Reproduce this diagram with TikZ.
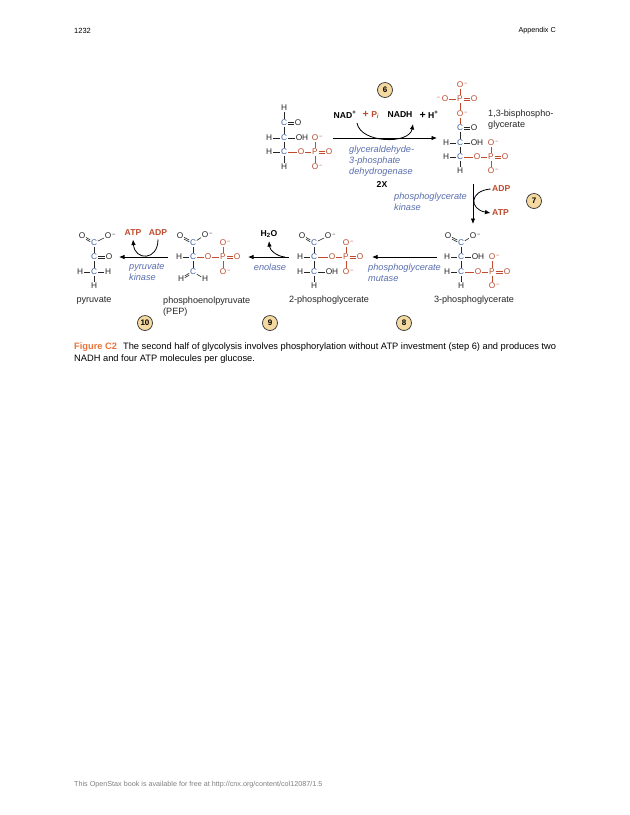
\documentclass[tikz,border=0pt]{standalone}
\usepackage{fontspec}
\setmainfont{Liberation Sans}
\usetikzlibrary{arrows.meta}
\definecolor{carbonblue}{HTML}{3F5FA8}
\definecolor{phosred}{HTML}{BE4B2E}
\definecolor{enzymeblue}{HTML}{5A6FB0}
\definecolor{stepfill}{HTML}{F4D9A0}
\definecolor{figorange}{HTML}{E8743B}
\newcommand{\Ominus}{O\rlap{\textsuperscript{\,−}}}
\newcommand{\bigplus}{{\fontsize{10.5}{10}\selectfont +}}
\newcommand{\dblbond}[3]{
	\draw[#1,transform canvas={yshift=0.9pt}] (#2) -- (#3);
	\draw[#1,transform canvas={yshift=-0.9pt}] (#2) -- (#3);
}
\tikzset{
	>={Latex[length=5.5pt,width=4.5pt]},
	atom/.style={font=\fontsize{8.3}{9}\selectfont,inner sep=0.6pt,text=black!85},
	atomC/.style={atom,text=carbonblue},
	atomP/.style={atom,text=phosred},
	bond/.style={line width=0.6pt,black!85},
	pbond/.style={line width=0.6pt,phosred},
	reaction/.style={->,line width=0.8pt,black},
	cofactor/.style={font=\bfseries\fontsize{8.6}{9}\selectfont,text=black},
	cofactorP/.style={cofactor,text=phosred},
	enzyme/.style={font=\itshape\fontsize{9.2}{11}\selectfont,text=enzymeblue,anchor=west,inner sep=0pt,align=left},
	molname/.style={font=\fontsize{9.1}{11.5}\selectfont,text=black!85,inner sep=0pt,align=left},
	stepnum/.style={circle,draw=black!80,fill=stepfill,line width=0.7pt,minimum size=15pt,inner sep=0pt,font=\bfseries\fontsize{8}{8}\selectfont},
}
\begin{document}
\begin{tikzpicture}[x=1pt,y=-1pt]
	\useasboundingbox[fill=white] (0,0) rectangle (630,815);

	\node[font=\fontsize{7.5}{8}\selectfont,anchor=west,inner sep=0pt] (page) at (74,30.5) {1232};
	\node[font=\fontsize{7.2}{8}\selectfont,anchor=east,inner sep=0pt] (chapter) at (556,30.5) {Appendix C};

	% glyceraldehyde-3-phosphate
	\node[atom] (gH1) at (284,108) {H};
	\node[atomC] (gC1) at (284,123) {C};
	\node[atom] (gO1) at (298,123) {O};
	\node[atomC] (gC2) at (284,138) {C};
	\node[atom] (gH2) at (269,138) {H};
	\node[atom] (gOH) at (302,138) {OH};
	\node[atomC] (gC3) at (284,152) {C};
	\node[atom] (gH3) at (269,152) {H};
	\node[atom] (gH4) at (284,167) {H};
	\node[atomP] (gO2) at (301,152) {O};
	\node[atomP] (gP) at (315,152) {P};
	\node[atomP] (gO3) at (329,152) {O};
	\node[atomP] (gO4) at (315,138) {\Ominus};
	\node[atomP] (gO5) at (315,167) {\Ominus};
	\draw[bond] (gH1) -- (gC1);
	\dblbond{bond}{gC1}{gO1}
	\draw[bond] (gC1) -- (gC2);
	\draw[bond] (gH2) -- (gC2);
	\draw[bond] (gC2) -- (gOH);
	\draw[bond] (gC2) -- (gC3);
	\draw[bond] (gH3) -- (gC3);
	\draw[bond] (gC3) -- (gH4);
	\draw[pbond] (gC3) -- (gO2);
	\draw[pbond] (gO2) -- (gP);
	\dblbond{pbond}{gP}{gO3}
	\draw[pbond] (gP) -- (gO4);
	\draw[pbond] (gP) -- (gO5);

	% step 6
	\node[stepnum] (s6) at (385,90) {6};
	\node[cofactor] (nad) at (345,115) {NAD\textsuperscript{+}};
	\node[cofactorP] (pi) at (371,115) {\bigplus{} P\textsubscript{\textit{i}}};
	\node[cofactor] (nadh) at (400,115) {NADH};
	\node[cofactor] (hplus) at (429,115) {\bigplus{} H\textsuperscript{+}};
	\coordinate (a6s) at (333,138);
	\coordinate (a6e) at (437,138);
	\coordinate (c6s) at (357,123);
	\coordinate (c6e) at (413,124);
	\draw[reaction] (a6s) -- (a6e);
	\draw[reaction] (c6s) to[out=-80,in=-100,looseness=0.95] (c6e);
	\node[enzyme] (e6) at (349,161) {glyceraldehyde-\\3-phosphate\\dehydrogenase};
	\node[cofactor] (two) at (382,184) {2X};

	% 1,3-bisphosphoglycerate
	\node[atomP] (bO1) at (460,85) {\Ominus};
	\node[atomP] (bO2) at (445,99) {\llap{\textsuperscript{−\,}}O};
	\node[atomP] (bP1) at (460,99) {P};
	\node[atomP] (bO3) at (474,99) {O};
	\node[atomP] (bO4) at (460,114) {\Ominus};
	\node[atomC] (bC1) at (460,128) {C};
	\node[atom] (bO5) at (474,128) {O};
	\node[atomC] (bC2) at (460,143) {C};
	\node[atom] (bH1) at (446,143) {H};
	\node[atom] (bOH) at (477,143) {OH};
	\node[atomC] (bC3) at (460,157) {C};
	\node[atom] (bH2) at (446,157) {H};
	\node[atom] (bH3) at (460,171) {H};
	\node[atomP] (bO6) at (477,157) {O};
	\node[atomP] (bP2) at (491,157) {P};
	\node[atomP] (bO7) at (505,157) {O};
	\node[atomP] (bO8) at (491,143) {\Ominus};
	\node[atomP] (bO9) at (491,171) {\Ominus};
	\draw[pbond] (bO1) -- (bP1);
	\draw[pbond] (bO2) -- (bP1);
	\dblbond{pbond}{bP1}{bO3}
	\draw[pbond] (bP1) -- (bO4);
	\draw[pbond] (bO4) -- (bC1);
	\dblbond{bond}{bC1}{bO5}
	\draw[bond] (bC1) -- (bC2);
	\draw[bond] (bH1) -- (bC2);
	\draw[bond] (bC2) -- (bOH);
	\draw[bond] (bC2) -- (bC3);
	\draw[bond] (bH2) -- (bC3);
	\draw[bond] (bC3) -- (bH3);
	\draw[pbond] (bC3) -- (bO6);
	\draw[pbond] (bO6) -- (bP2);
	\dblbond{pbond}{bP2}{bO7}
	\draw[pbond] (bP2) -- (bO8);
	\draw[pbond] (bP2) -- (bO9);
	\node[molname,anchor=west] (bname) at (488,119.5) {1,3-bisphospho-\\glycerate};

	% step 7
	\node[stepnum] (s7) at (534,201) {7};
	\node[cofactorP,anchor=west,inner sep=1.5pt] (adp7) at (490.5,189) {ADP};
	\node[cofactorP,anchor=west,inner sep=1.5pt] (atp7) at (490.5,213) {ATP};
	\coordinate (a7s) at (473,184);
	\coordinate (a7e) at (473,224);
	\draw[reaction] (a7s) -- (a7e);
	\draw[reaction] (adp7.west) to[out=185,in=170,looseness=2.3] (atp7.west);
	\node[enzyme] (e7) at (394,202) {phosphoglycerate\\kinase};

	% 3-phosphoglycerate
	\node[atom] (tO1) at (448,236) {O};
	\node[atom] (tO2) at (473,236) {\Ominus};
	\node[atomC] (tC1) at (461,243) {C};
	\node[atomC] (tC2) at (461,257) {C};
	\node[atom] (tH1) at (447,257) {H};
	\node[atom] (tOH) at (478,257) {OH};
	\node[atomC] (tC3) at (461,272) {C};
	\node[atom] (tH2) at (447,272) {H};
	\node[atom] (tH3) at (461,286) {H};
	\node[atomP] (tO3) at (478,272) {O};
	\node[atomP] (tP) at (492,272) {P};
	\node[atomP] (tO4) at (507,272) {O};
	\node[atomP] (tO5) at (492,257) {\Ominus};
	\node[atomP] (tO6) at (492,286) {\Ominus};
	\dblbond{bond}{tO1}{tC1}
	\draw[bond] (tO2) -- (tC1);
	\draw[bond] (tC1) -- (tC2);
	\draw[bond] (tH1) -- (tC2);
	\draw[bond] (tC2) -- (tOH);
	\draw[bond] (tC2) -- (tC3);
	\draw[bond] (tH2) -- (tC3);
	\draw[bond] (tC3) -- (tH3);
	\draw[pbond] (tC3) -- (tO3);
	\draw[pbond] (tO3) -- (tP);
	\dblbond{pbond}{tP}{tO4}
	\draw[pbond] (tP) -- (tO5);
	\draw[pbond] (tP) -- (tO6);
	\node[molname] (tname) at (474,300.5) {3-phosphoglycerate};

	% step 8
	\node[stepnum] (s8) at (404,323) {8};
	\coordinate (a8s) at (437,257);
	\coordinate (a8e) at (372,257);
	\draw[reaction] (a8s) -- (a8e);
	\node[enzyme] (e8) at (368,272.5) {phosphoglycerate\\mutase};

	% 2-phosphoglycerate
	\node[atom] (dO1) at (302,236) {O};
	\node[atom] (dO2) at (328,236) {\Ominus};
	\node[atomC] (dC1) at (314,243) {C};
	\node[atomC] (dC2) at (314,257) {C};
	\node[atom] (dH1) at (300,257) {H};
	\node[atomC] (dC3) at (314,272) {C};
	\node[atom] (dH2) at (300,272) {H};
	\node[atom] (dOH) at (332,272) {OH};
	\node[atom] (dH3) at (314,286) {H};
	\node[atomP] (dO3) at (332,257) {O};
	\node[atomP] (dP) at (346,257) {P};
	\node[atomP] (dO4) at (360,257) {O};
	\node[atomP] (dO5) at (346,243) {\Ominus};
	\node[atomP] (dO6) at (346,272) {\Ominus};
	\dblbond{bond}{dO1}{dC1}
	\draw[bond] (dO2) -- (dC1);
	\draw[bond] (dC1) -- (dC2);
	\draw[bond] (dH1) -- (dC2);
	\draw[bond] (dC2) -- (dC3);
	\draw[bond] (dH2) -- (dC3);
	\draw[bond] (dC3) -- (dOH);
	\draw[bond] (dC3) -- (dH3);
	\draw[pbond] (dC2) -- (dO3);
	\draw[pbond] (dO3) -- (dP);
	\dblbond{pbond}{dP}{dO4}
	\draw[pbond] (dP) -- (dO5);
	\draw[pbond] (dP) -- (dO6);
	\node[molname] (dname) at (329,300.5) {2-phosphoglycerate};

	% step 9
	\node[stepnum] (s9) at (270,323) {9};
	\node[cofactor] (water) at (269,234) {H\textsubscript{2}O};
	\coordinate (a9s) at (289,257);
	\coordinate (a9e) at (248,257);
	\coordinate (c9s) at (285,257);
	\draw[reaction] (a9s) -- (a9e);
	\draw[reaction] (c9s) to[out=175,in=-85] (water.south);
	\node[enzyme,anchor=center] (e9) at (270,267) {enolase};

	% phosphoenolpyruvate
	\node[atom] (eO1) at (180,236) {O};
	\node[atom] (eO2) at (205,235) {\Ominus};
	\node[atomC] (eC1) at (193,243) {C};
	\node[atomC] (eC2) at (193,257) {C};
	\node[atom] (eH1) at (179,257) {H};
	\node[atomC] (eC3) at (193,272) {C};
	\node[atom] (eH2) at (181,279) {H};
	\node[atom] (eH3) at (205,279) {H};
	\node[atomP] (eO3) at (208,257) {O};
	\node[atomP] (eP) at (223,257) {P};
	\node[atomP] (eO4) at (237,257) {O};
	\node[atomP] (eO5) at (223,243) {\Ominus};
	\node[atomP] (eO6) at (223,272) {\Ominus};
	\dblbond{bond}{eO1}{eC1}
	\draw[bond] (eO2) -- (eC1);
	\draw[bond] (eC1) -- (eC2);
	\draw[bond] (eH1) -- (eC2);
	\draw[bond] (eC2) -- (eC3);
	\dblbond{bond}{eC3}{eH2}
	\draw[bond] (eC3) -- (eH3);
	\draw[pbond] (eC2) -- (eO3);
	\draw[pbond] (eO3) -- (eP);
	\dblbond{pbond}{eP}{eO4}
	\draw[pbond] (eP) -- (eO5);
	\draw[pbond] (eP) -- (eO6);
	\node[molname,anchor=west] (ename) at (163,306.5) {phosphoenolpyruvate\\(PEP)};

	% step 10
	\node[stepnum] (s10) at (145,323) {10};
	\node[cofactorP] (atp10) at (133,233) {ATP};
	\node[cofactorP] (adp10) at (158,233) {ADP};
	\coordinate (a10s) at (168,257);
	\coordinate (a10e) at (119,257);
	\draw[reaction] (a10s) -- (a10e);
	\draw[reaction] (adp10.south) to[out=-90,in=-85,looseness=2.2] (atp10.south);
	\node[enzyme] (e10) at (129,272.5) {pyruvate\\kinase};

	% pyruvate
	\node[atom] (pO1) at (82,236) {O};
	\node[atom] (pO2) at (108,236) {\Ominus};
	\node[atomC] (pC1) at (94,243) {C};
	\node[atomC] (pC2) at (94,257) {C};
	\node[atom] (pO3) at (109,257) {O};
	\node[atomC] (pC3) at (94,272) {C};
	\node[atom] (pH1) at (80,272) {H};
	\node[atom] (pH2) at (108,272) {H};
	\node[atom] (pH3) at (94,286) {H};
	\dblbond{bond}{pO1}{pC1}
	\draw[bond] (pO2) -- (pC1);
	\draw[bond] (pC1) -- (pC2);
	\dblbond{bond}{pC2}{pO3}
	\draw[bond] (pC2) -- (pC3);
	\draw[bond] (pH1) -- (pC3);
	\draw[bond] (pC3) -- (pH2);
	\draw[bond] (pC3) -- (pH3);
	\node[molname] (pname) at (94,300.5) {pyruvate};

	\node[font=\fontsize{9.3}{12}\selectfont,anchor=north west,inner sep=0pt,align=left] (caption) at (74,342.5) {\textcolor{figorange}{\textbf{Figure C2}}\hspace{6pt}The second half of glycolysis involves phosphorylation without ATP investment (step 6) and produces two\\NADH and four ATP molecules per glucose.};
	\node[font=\fontsize{7.2}{8}\selectfont,text=black!50,anchor=west,inner sep=0pt] (footer) at (74,785) {This OpenStax book is available for free at http://cnx.org/content/col12087/1.5};
\end{tikzpicture}
\end{document}
